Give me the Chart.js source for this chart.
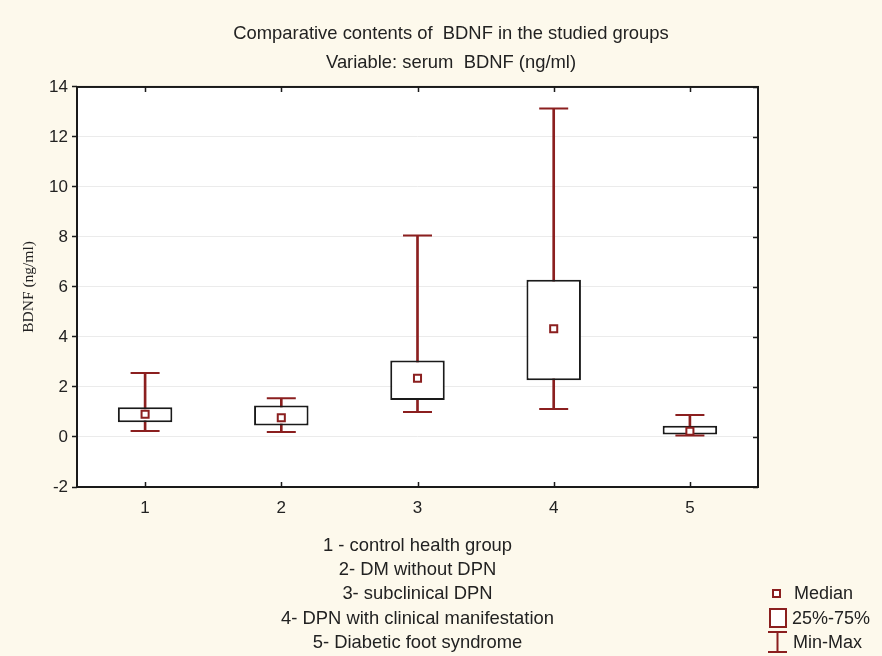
<!DOCTYPE html>
<html>
<head>
<meta charset="utf-8">
<script src="https://cdn.jsdelivr.net/npm/chart.js@4.4.1/dist/chart.umd.min.js"></script>
<style>
  html, body { margin: 0; padding: 0; background: #fdf9ec; }
  canvas { display: block; }
</style>
</head>
<body>
<canvas id="chart" width="882" height="656"></canvas>
<script>
// Serum BDNF (ng/ml) per study group: min, quartiles, median, max
const groups = ['1', '2', '3', '4', '5'];
const minValues = [0.24, 0.20, 1.00, 1.12, 0.06];
const q1Values = [0.59, 0.46, 1.48, 2.27, 0.10];
const medianValues = [0.91, 0.77, 2.35, 4.33, 0.23];
const q3Values = [1.19, 1.26, 3.06, 6.29, 0.45];
const maxValues = [2.56, 1.55, 8.06, 13.14, 0.88];

const groupNames = [
  '1 - control health group',
  '2- DM without DPN',
  '3- subclinical DPN',
  '4- DPN with clinical manifestation',
  '5- Diabetic foot syndrome'
];
const legendLabels = ['Median', '25%-75%', 'Min-Max'];
const titleText = 'Comparative contents of  BDNF in the studied groups';
const subtitleText = 'Variable: serum  BDNF (ng/ml)';
const yTitle = 'BDNF (ng/ml)';

const RED = '#8b1f1f';
const INK = '#1a1a1a';
const SANS = "'Liberation Sans', Arial, sans-serif";
const SERIF = "'Liberation Serif', 'Times New Roman', serif";

// white plotting area on the cream page
const plotBackground = {
  id: 'plotBackground',
  beforeDraw(chart) {
    const { ctx, chartArea: a } = chart;
    ctx.save();
    ctx.fillStyle = '#ffffff';
    ctx.fillRect(a.left, a.top, a.right - a.left, a.bottom - a.top);
    ctx.restore();
  }
};

// closed frame with inward tick marks on the top, bottom and right edges
const frame = {
  id: 'frame',
  afterDatasetsDraw(chart) {
    const { ctx, chartArea: a, scales } = chart;
    ctx.save();
    ctx.strokeStyle = INK;
    ctx.lineWidth = 2;
    ctx.strokeRect(a.left, a.top, a.right - a.left, a.bottom - a.top);
    ctx.lineWidth = 1.5;
    ctx.beginPath();
    groups.forEach((g, i) => {
      const x = Math.round(scales.x.getPixelForValue(i)) + 0.5;
      ctx.moveTo(x, a.top); ctx.lineTo(x, a.top + 5);
      ctx.moveTo(x, a.bottom); ctx.lineTo(x, a.bottom - 5);
    });
    scales.y.ticks.forEach(t => {
      const y = Math.round(scales.y.getPixelForValue(t.value)) + 0.5;
      ctx.moveTo(a.right, y); ctx.lineTo(a.right - 5, y);
    });
    ctx.stroke();
    ctx.restore();
  }
};

// legend block in the lower right corner
const boxLegend = {
  id: 'boxLegend',
  afterDraw(chart) {
    const { ctx } = chart;
    ctx.save();
    ctx.strokeStyle = RED;
    ctx.fillStyle = '#ffffff';
    ctx.lineWidth = 2;
    // median marker
    ctx.fillRect(773, 590, 7, 7);
    ctx.strokeRect(773, 590, 7, 7);
    // quartile box
    ctx.fillRect(770, 609, 16, 18);
    ctx.strokeRect(770, 609, 16, 18);
    // whisker
    ctx.beginPath();
    ctx.moveTo(768, 632); ctx.lineTo(787, 632);
    ctx.moveTo(777.5, 632); ctx.lineTo(777.5, 652);
    ctx.moveTo(768, 652); ctx.lineTo(787, 652);
    ctx.stroke();
    ctx.fillStyle = '#222';
    ctx.font = '18px ' + SANS;
    ctx.textBaseline = 'middle';
    ctx.textAlign = 'left';
    ctx.fillText(legendLabels[0], 794, 594);
    ctx.fillText(legendLabels[1], 792, 619);
    ctx.fillText(legendLabels[2], 793, 643);
    ctx.restore();
  }
};

new Chart(document.getElementById('chart'), {
  data: {
    labels: groups,
    datasets: [
      {
        type: 'bar',
        label: 'Min-Max',
        data: minValues.map((v, i) => [v, maxValues[i]]),
        backgroundColor: RED,
        borderWidth: 0,
        barThickness: 2,
        grouped: false,
        order: 3
      },
      {
        type: 'bar',
        label: '25%-75%',
        data: q1Values.map((v, i) => [v, q3Values[i]]),
        backgroundColor: '#ffffff',
        borderColor: INK,
        borderWidth: 2,
        borderSkipped: false,
        barPercentage: 0.4,
        categoryPercentage: 1,
        grouped: false,
        order: 2
      },
      {
        type: 'line',
        label: 'Min',
        data: minValues,
        showLine: false,
        pointStyle: 'line',
        pointRadius: 14.5,
        pointBorderColor: RED,
        pointBorderWidth: 2,
        order: 1
      },
      {
        type: 'line',
        label: 'Max',
        data: maxValues,
        showLine: false,
        pointStyle: 'line',
        pointRadius: 14.5,
        pointBorderColor: RED,
        pointBorderWidth: 2,
        order: 1
      },
      {
        type: 'line',
        label: 'Median',
        data: medianValues,
        showLine: false,
        pointStyle: 'rect',
        pointRadius: 5,
        pointBackgroundColor: '#ffffff',
        pointBorderColor: RED,
        pointBorderWidth: 2,
        order: 0
      }
    ]
  },
  options: {
    responsive: false,
    animation: false,
    devicePixelRatio: 1,
    layout: { padding: { left: 20, right: 0, top: 0, bottom: 0 } },
    plugins: {
      legend: { display: false },
      tooltip: { enabled: false },
      title: {
        display: true,
        text: titleText,
        color: '#222',
        font: { family: SANS, size: 18.4, weight: 'normal', lineHeight: 1.2 },
        padding: { top: 23, bottom: 6 }
      },
      subtitle: {
        display: true,
        text: subtitleText,
        color: '#222',
        font: { family: SANS, size: 18.4, weight: 'normal', lineHeight: 1.2 },
        padding: { top: 1, bottom: 12.8 }
      }
    },
    scales: {
      x: {
        type: 'category',
        offset: true,
        grid: { display: false, drawTicks: false },
        border: { display: false },
        ticks: { color: '#222', padding: 11, font: { family: SANS, size: 17 } },
        title: {
          display: true,
          text: groupNames,
          color: '#222',
          font: { family: SANS, size: 18.4, lineHeight: '24.25px' },
          padding: { top: 12, bottom: 1 }
        },
        afterFit(scale) { scale.height = 169; }
      },
      y: {
        min: -2,
        max: 14,
        ticks: { stepSize: 2, color: '#222', padding: 4, font: { family: SANS, size: 17 } },
        grid: { color: '#ebebeb', lineWidth: 1, drawTicks: true, tickLength: 5, tickColor: INK, tickWidth: 1.5 },
        border: { display: false },
        title: {
          display: true,
          text: yTitle,
          color: '#222',
          font: { family: SERIF, size: 15.5, lineHeight: 1.2 },
          padding: { top: 0, bottom: 0 }
        },
        afterFit(scale) { scale.width = 57; }
      },
      // empty right-hand margin that keeps the legend column clear of the plot
      margin: {
        type: 'linear',
        position: 'right',
        display: true,
        grid: { display: false, drawTicks: false },
        border: { display: false },
        ticks: { display: false },
        afterFit(scale) { scale.width = 124; }
      }
    }
  },
  plugins: [plotBackground, frame, boxLegend]
});
</script>
</body>
</html>
